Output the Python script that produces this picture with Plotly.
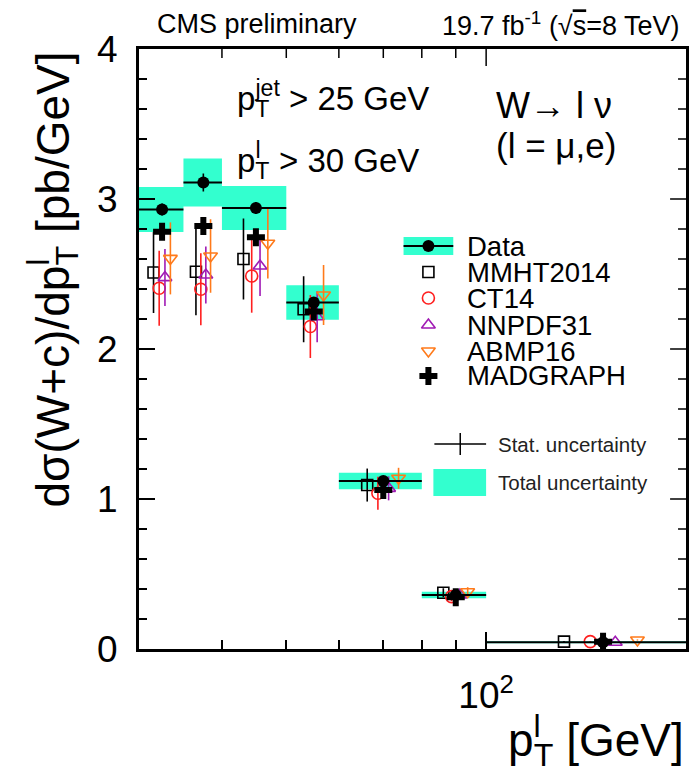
import numpy as np
import plotly.graph_objects as go

# lepton pT bin edges [GeV]
pt_edges = [30, 35, 40, 50, 60, 80, 100, 200]

# measured W+c differential cross section [pb/GeV]
data_val = [2.93, 3.11, 2.94, 2.31, 1.12, 0.36, 0.045]
data_stat = [0.04, 0.06, 0.04, 0.03, 0.02, 0.01, 0.003]
data_tot = [0.15, 0.16, 0.147, 0.115, 0.055, 0.022, 0.006]

# predictions with their uncertainties [pb/GeV]
mmht_val = [2.51, 2.515, 2.60, 2.265, 1.093, 0.375, 0.049]
mmht_err = [0.27, 0.29, 0.27, 0.22, 0.11, 0.03, 0.004]
ct14_val = [2.405, 2.398, 2.487, 2.15, 1.038, 0.349, 0.049]
ct14_err = [0.25, 0.24, 0.245, 0.21, 0.11, 0.03, 0.004]
nnpdf_val = [2.476, 2.493, 2.553, 2.215, 1.071, 0.36, 0.045]
nnpdf_err = [0.19, 0.19, 0.20, 0.17, 0.08, 0.025, 0.003]
abmp_val = [2.604, 2.62, 2.705, 2.36, 1.138, 0.382, 0.06]
abmp_err = [0.24, 0.245, 0.235, 0.20, 0.07, 0.03, 0.004]
madgraph_val = [2.782, 2.82, 2.745, 2.25, 1.06, 0.345, 0.048]

y_ticks = [0, 1, 2, 3, 4]
y_minor_step = 0.2
x_ticks = [100]
x_tick_text = ["10<sup>2</sup>"]
x_minor_ticks = [40, 50, 60, 70, 80, 90]

FONT = "Liberation Sans, Arial, sans-serif"
CYAN = "#33ffcf"
RED = "#ff1f1f"
VIOLET = "#a01ab4"
ORANGE = "#ff7a1a"

# plot-area geometry in pixels
W_FIG, H_FIG = 694, 767
L, R, T, B = 139, 689, 49, 649
X_LO, X_HI = np.log10(pt_edges[0]), np.log10(pt_edges[-1])
Y_LO, Y_HI = 0.0, 4.0
MAJ_LEN, MIN_LEN = 16, 8


def px(x):
    return (x - L) / (R - L)


def py(y):
    return (B - y) / (B - T)


def xdata(x):
    # pixel column -> pT on the log axis (used for legend samples)
    return 10 ** (X_LO + px(x) * (X_HI - X_LO))


def ydata(y):
    return Y_LO + py(y) * (Y_HI - Y_LO)


lo = np.array(pt_edges[:-1], dtype=float)
hi = np.array(pt_edges[1:], dtype=float)
ctr = 0.5 * (lo + hi)
wid = hi - lo

fig = go.Figure()

# total-uncertainty boxes
bx, by = [], []
for a, b, v, e in zip(lo, hi, data_val, data_tot):
    bx += [a, b, b, a, a, None]
    by += [v - e, v - e, v + e, v + e, v - e, None]
fig.add_trace(go.Scatter(x=bx, y=by, mode="lines", fill="toself",
                         fillcolor=CYAN, line=dict(width=0, color=CYAN),
                         hoverinfo="skip"))

# theory predictions, staggered within each bin
theory = [
    (mmht_val, mmht_err, -0.19, "square-open", "black", 11),
    (ct14_val, ct14_err, -0.065, "circle-open", RED, 12),
    (nnpdf_val, nnpdf_err, 0.065, "triangle-up-open", VIOLET, 12),
    (abmp_val, abmp_err, 0.19, "triangle-down-open", ORANGE, 12),
]
for vals, errs, off, sym, col, sz in theory:
    fig.add_trace(go.Scatter(
        x=ctr + off * wid, y=vals, mode="markers",
        marker=dict(symbol=sym, size=sz, color=col, line=dict(width=1.6, color=col)),
        error_y=dict(type="data", array=errs, width=0, thickness=1.6, color=col),
    ))

fig.add_trace(go.Scatter(
    x=ctr, y=madgraph_val, mode="markers",
    marker=dict(symbol="cross", size=15, color="black", line=dict(width=0)),
))

# data points with bin-width horizontal bars and statistical errors
fig.add_trace(go.Scatter(
    x=ctr, y=data_val, mode="markers",
    marker=dict(symbol="circle", size=12, color="black"),
    error_x=dict(type="data", symmetric=False, array=hi - ctr, arrayminus=ctr - lo,
                 width=0, thickness=1.8, color="black"),
    error_y=dict(type="data", array=data_stat, width=0, thickness=1.6, color="black"),
))

shapes = []


def rect(x0, x1, y0, y1):
    shapes.append(dict(type="rect", xref="paper", yref="paper",
                       x0=px(x0), x1=px(x1), y0=py(y1), y1=py(y0),
                       fillcolor=CYAN, line=dict(width=0), layer="below"))


def seg_paper(x0, x1, y0, y1, w):
    shapes.append(dict(type="line", xref="paper", yref="paper",
                       x0=x0, x1=x1, y0=y0, y1=y1,
                       line=dict(width=w, color="black"), layer="above"))


def seg(x0, x1, y0, y1, w):
    seg_paper(px(x0), px(x1), py(y0), py(y1), w)


# tick marks on the top and right frame edges
for v in x_ticks + x_minor_ticks:
    xp = (np.log10(v) - X_LO) / (X_HI - X_LO)
    ln = (17 if v in x_ticks else 9) / (B - T)
    seg_paper(xp, xp, 1, 1 - ln, 1.5)
n_minor = int(round((Y_HI - Y_LO) / y_minor_step))
for k in range(1, n_minor):
    v = Y_LO + k * y_minor_step
    yp = (v - Y_LO) / (Y_HI - Y_LO)
    major = any(abs(v - t) < 1e-9 for t in y_ticks)
    ln = (MAJ_LEN if major else MIN_LEN) / (R - L)
    seg_paper(1, 1 - ln, yp, yp, 1.5)

# legend samples
leg_x = 430
leg_rows = [246, 272, 298, 325, 351, 376]
rect(405, 455, 237, 255)
seg(405, 455, 246, 246, 1.8)
leg_markers = [
    ("circle", "black", 12),
    ("square-open", "black", 11),
    ("circle-open", RED, 12),
    ("triangle-up-open", VIOLET, 12),
    ("triangle-down-open", ORANGE, 12),
    ("cross", "black", 15),
]
for (sym, col, sz), yy in zip(leg_markers, leg_rows):
    fig.add_trace(go.Scatter(x=[xdata(leg_x)], y=[ydata(yy)], mode="markers",
                             marker=dict(symbol=sym, size=sz, color=col,
                                         line=dict(width=1.6 if "open" in sym else 0, color=col)),
                             hoverinfo="skip", cliponaxis=False))
leg_labels = ["Data", "MMHT2014", "CT14", "NNPDF31", "ABMP16", "MADGRAPH"]

seg(436, 488, 444, 444, 1.5)
seg(462, 462, 433, 455, 1.5)
rect(435, 488, 469, 496)

ann = []


def text(x, y, s, size, xanchor="left", color="black", angle=0, yanchor="middle"):
    ann.append(dict(x=px(x), y=py(y), xref="paper", yref="paper", text=s,
                    showarrow=False, xanchor=xanchor, yanchor=yanchor,
                    textangle=angle, font=dict(family=FONT, size=size, color=color)))


for lab, yy in zip(leg_labels, leg_rows):
    text(467, yy, lab, 27.5)
text(498, 444, "Stat. uncertainty", 20.5, color="#222222")
text(498, 482, "Total uncertainty", 20.5, color="#222222")

# header
text(155, 24, "CMS preliminary", 27)
text(685, 24, "19.7 fb<sup>-1</sup> (√<span style='text-decoration:overline'>s</span>=8 TeV)",
     27, xanchor="right")

# selection and channel labels
text(236, 98, "p<sub><span style='letter-spacing:-14px'>T</span></sub><sup>jet</sup> > 25 GeV", 33)
text(236, 160, "p<sub><span style='letter-spacing:-14px'>T</span></sub><sup>l</sup>  > 30 GeV", 33)
text(496, 106, "W→ l ν", 36)
text(496, 146, "(l = μ,e)", 35)

# axis titles
text(689, 740, "p<sup><span style='letter-spacing:-7px'>l</span></sup><sub>T</sub> [GeV]",
     46, xanchor="right")
text(52, 49, "dσ(W+c)/dp<sup><span style='letter-spacing:-7px'>l</span></sup><sub>T</sub> [pb/GeV]",
     46, xanchor="center", yanchor="top", angle=-90)

fig.update_layout(
    width=W_FIG, height=H_FIG,
    margin=dict(l=L, r=W_FIG - R, t=T, b=H_FIG - B),
    paper_bgcolor="white", plot_bgcolor="white",
    showlegend=False,
    annotations=ann,
    shapes=shapes,
    xaxis=dict(type="log", range=[X_LO, X_HI],
               tickmode="array", tickvals=x_ticks, ticktext=x_tick_text,
               ticks="inside", ticklen=17, tickwidth=1.5, tickcolor="black",
               showline=True, linewidth=3, linecolor="black", mirror=True,
               showgrid=False, zeroline=False, ticklabelstandoff=12,
               tickfont=dict(family=FONT, size=37, color="black"),
               minor=dict(tickmode="array", tickvals=x_minor_ticks, ticks="inside",
                          ticklen=9, tickwidth=1.5, tickcolor="black", showgrid=False)),
    yaxis=dict(range=[Y_LO, Y_HI], tickmode="array", tickvals=y_ticks,
               ticks="inside", ticklen=MAJ_LEN, tickwidth=1.5, tickcolor="black",
               showline=True, linewidth=3, linecolor="black", mirror=True,
               showgrid=False, zeroline=False, ticklabelstandoff=11,
               tickfont=dict(family=FONT, size=37, color="black"),
               minor=dict(dtick=y_minor_step, ticks="inside", ticklen=MIN_LEN, tickwidth=1.5,
                          tickcolor="black", showgrid=False)),
)

fig.write_html("out.html")
